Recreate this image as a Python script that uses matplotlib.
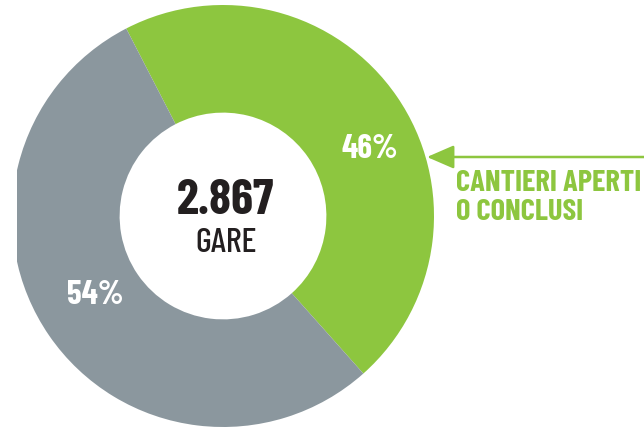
import matplotlib
matplotlib.use('Agg')
import matplotlib.pyplot as plt

# data
labels = ['Cantieri aperti o conclusi', 'Altro']
shares = [46, 54]
pct_labels = ['46%', '54%']
total_text = '2.867'
total_unit = 'GARE'
callout = 'CANTIERI APERTI\nO CONCLUSI'

green = '#8dc63f'
grey = '#8b979e'
ink = '#231f20'

W, H = 644, 429
fig = plt.figure(figsize=(W / 100, H / 100), dpi=100)

# donut: centre and radius in reference pixels, left side cropped at x=17
cx, cy, r = 223, 216, 211
left = 17
ax = fig.add_axes([left / W, 1 - (cy + r) / H, (cx + r - left) / W, 2 * r / H])
wedges, _ = ax.pie(shares, colors=[green, grey], startangle=117.3,
                   counterclock=False, radius=1,
                   wedgeprops=dict(width=0.51, linewidth=0))
for w in wedges:
    w.set_clip_on(True)   # pie turns clipping off, the original is cut on the left
ax.set_xlim((left - cx) / r, 1)
ax.set_ylim(-1, 1)
ax.set_aspect('auto')
ax.axis('off')

# overlay in pixel coordinates for text and arrow
ov = fig.add_axes([0, 0, 1, 1])
ov.set_xlim(0, W)
ov.set_ylim(H, 0)
ov.axis('off')

cond = ['Barlow Condensed', 'DejaVu Sans']

ov.text(225, 201, total_text, ha='center', va='center', fontsize=36,
        fontweight='bold', color=ink, family=cond)
ov.text(226, 244, total_unit, ha='center', va='center', fontsize=25,
        fontweight='medium', color=ink, family=cond)

ov.text(370, 149, pct_labels[0], ha='center', va='center', fontsize=24,
        fontweight='bold', color='white', family=cond)
ov.text(95, 295, pct_labels[1], ha='center', va='center', fontsize=24,
        fontweight='bold', color='white', family=cond)

ov.annotate('', xy=(427, 157), xytext=(650, 157),
            arrowprops=dict(arrowstyle='-|>,head_length=0.83,head_width=0.36',
                            mutation_scale=20, color=green, lw=1.8,
                            shrinkA=0, shrinkB=0))
ov.text(456, 198, callout, ha='left', va='center', fontsize=22,
        fontweight='bold', color=green, family=cond, linespacing=1.05)

fig.savefig('out.png', dpi=100)
